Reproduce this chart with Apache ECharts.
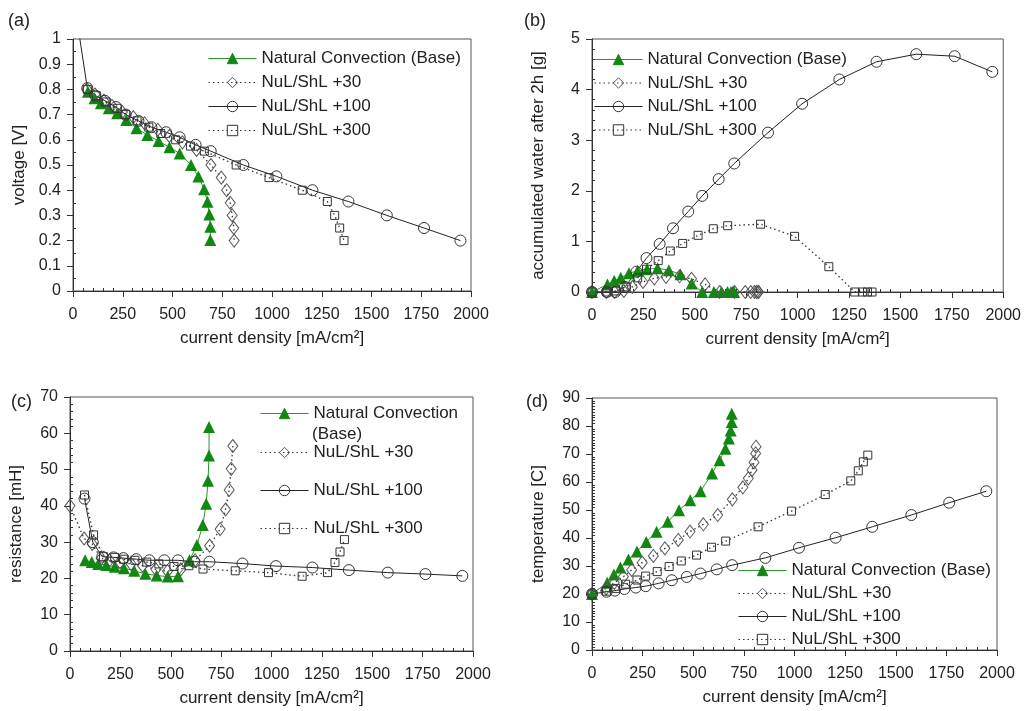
<!DOCTYPE html>
<html>
<head>
<meta charset="utf-8">
<script src="https://cdn.jsdelivr.net/npm/echarts@6/dist/echarts.min.js"></script>
<style>
  html, body { margin: 0; padding: 0; background: #fff; }
  #chart { width: 1024px; height: 711px; }
</style>
</head>
<body>
<div id="chart"></div>
<script>
// current density [mA/cm2] of every series
var xBase = [0, 75, 108, 140, 180, 222, 268, 319, 374, 430, 485, 536, 593, 630, 659, 676, 685, 690, 690];
var x30   = [0, 70, 110, 155, 196, 248, 303, 360, 426, 484, 550, 621, 693, 745, 772, 790, 800, 808, 810];
var x100  = [0, 72, 113, 160, 216, 265, 329, 394, 468, 536, 616, 692, 856, 1022, 1203, 1384, 1577, 1764, 1947];
var x300  = [0, 72, 117, 166, 222, 265, 322, 381, 441, 516, 590, 660, 820, 985, 1152, 1278, 1315, 1340, 1362];

// (a) voltage [V]
var baseA = [null, 0.791, 0.765, 0.745, 0.725, 0.705, 0.679, 0.646, 0.619, 0.595, 0.57, 0.546, 0.50, 0.454, 0.404, 0.354, 0.304, 0.255, 0.202];
var y30A  = [null, 0.80, 0.78, 0.755, 0.735, 0.71, 0.69, 0.665, 0.64, 0.615, 0.59, 0.56, 0.50, 0.45, 0.40, 0.35, 0.30, 0.25, 0.20];
var y100A = [1.18, 0.805, 0.775, 0.755, 0.73, 0.70, 0.675, 0.65, 0.63, 0.61, 0.58, 0.555, 0.50, 0.455, 0.40, 0.355, 0.30, 0.25, 0.20];
var y300A = [null, 0.80, 0.775, 0.75, 0.725, 0.70, 0.675, 0.65, 0.625, 0.60, 0.575, 0.555, 0.50, 0.45, 0.40, 0.355, 0.30, 0.25, 0.20];

// (b) accumulated water after 2h [g]
var baseB = [0, 0.15, 0.22, 0.28, 0.37, 0.42, 0.45, 0.47, 0.43, 0.35, 0.17, 0, 0, 0, 0, 0, 0, 0, 0];
var y30B  = [0, 0, 0, 0.02, 0.10, 0.20, 0.27, 0.30, 0.31, 0.26, 0.15, 0, 0, 0, 0, 0, 0, 0, 0];
var y100B = [0, 0, 0, 0.1, 0.40, 0.67, 0.95, 1.26, 1.59, 1.90, 2.23, 2.54, 3.15, 3.72, 4.20, 4.55, 4.70, 4.66, 4.35];
var y300B = [0, 0, 0.02, 0.10, 0.28, 0.45, 0.62, 0.81, 0.96, 1.12, 1.25, 1.31, 1.34, 1.10, 0.50, 0, 0, 0, 0];

// (c) resistance [mH]
var baseC = [null, 25, 24.5, 24, 23.7, 23.2, 22.8, 22.1, 21.3, 20.8, 20.5, 20.6, 25, 29.2, 34.7, 40.6, 46.9, 53.9, 61.7];
var y30C  = [40, 31, 29.5, 25.5, 25, 24.5, 24, 23.5, 22.5, 22, 22.5, 25, 29, 33.6, 39, 44.4, 50.2, 56.5, null];
var y100C = [null, 42, 30, 26, 25.8, 25.6, 25.3, 25, 25, 25, 24.6, 24.6, 24.1, 23.4, 23, 22.3, 21.6, 21.2, 20.7];
var y300C = [null, 43, 32, 26, 25.8, 25.3, 25, 24.5, 24, 23.3, 23.5, 22.6, 22.1, 21.6, 20.6, 21.6, 24.4, 27.3, 30.7];

// (d) temperature [C]
var baseD = [20, 24, 27, 29.5, 32.3, 35.2, 38.6, 42.2, 45.8, 49.9, 53.5, 56.7, 63, 67.8, 71.9, 75.5, 78.4, 81.4, 84.4];
var y30D  = [20, 22, 24, 26.2, 28.6, 31.2, 33.6, 36.3, 39.3, 42.3, 44.9, 48.2, 53.8, 58.1, 61.3, 64.3, 67, 70.2, 72.6];
var y100D = [20, 20.8, 21.2, 21.8, 22.3, 22.8, 23.8, 24.9, 26.1, 27.3, 28.8, 30.3, 32.9, 36.5, 40.1, 44, 48.2, 52.6, 56.7];
var y300D = [20, 21, 22, 23.5, 25, 26.4, 28, 29.8, 31.8, 33.9, 36.7, 38.9, 44, 49.6, 55.5, 60.4, 64, 67.2, 69.6];

var seriesNames = ['Natural Convection (Base)', 'NuL/ShL +30', 'NuL/ShL +100', 'NuL/ShL +300'];
var panelTags = ['(a)', '(b)', '(c)', '(d)'];
var yNames = ['voltage [V]', 'accumulated water after 2h [g]', 'resistance [mH]', 'temperature [C]'];
var xName = 'current density [mA/cm\u00b2]';
var yMax = [1, 5, 70, 90];
var yStep = [0.1, 1, 10, 10];

var FONT = 'Liberation Sans, Arial, sans-serif';
var INK = '#222';

var xs = [xBase, x30, x100, x300];
var ys = [
  [baseA, y30A, y100A, y300A],
  [baseB, y30B, y100B, y300B],
  [baseC, y30C, y100C, y300C],
  [baseD, y30D, y100D, y300D]
];

var grids = [
  {left: 73, top: 39, width: 398, height: 252},
  {left: 592, top: 39, width: 415, height: 253},
  {left: 70, top: 397, width: 403, height: 254},
  {left: 592, top: 398, width: 405, height: 252}
];
var yMinorSplit = [2, 5, 5, 10];

var marks = [
  {symbol: 'triangle', size: 12, line: {color: '#2a962a', width: 1, type: 'solid'}, item: {color: '#118811', borderColor: '#118811', borderWidth: 0}},
  {symbol: 'diamond', size: [10, 13], line: {color: '#333', width: 1.3, type: [1.5, 3]}, item: {color: 'transparent', borderColor: '#555', borderWidth: 1}},
  {symbol: 'circle', size: 11, line: {color: '#222', width: 1, type: 'solid'}, item: {color: 'transparent', borderColor: '#333', borderWidth: 1}},
  {symbol: 'rect', size: 8, line: {color: '#333', width: 1.3, type: [1.5, 3]}, item: {color: 'transparent', borderColor: '#333', borderWidth: 1}}
];

function plain(v) { return String(+v.toFixed(1)); }

var chart = echarts.init(document.getElementById('chart'));

var grid = [], xAxis = [], yAxis = [], series = [];
for (var p = 0; p < 4; p++) {
  grid.push(Object.assign({show: true, borderColor: '#555', borderWidth: 1}, grids[p]));

  xAxis[p] = {
    gridIndex: p, type: 'value', position: 'bottom', min: 0, max: 2000, interval: 250,
    axisLine: {onZero: false, lineStyle: {color: '#333'}},
    axisTick: {length: 6, lineStyle: {color: '#333'}},
    axisLabel: {margin: 16, color: INK, fontFamily: FONT, fontSize: 16, formatter: plain},
    splitLine: {show: false},
    name: xName, nameLocation: 'middle', nameGap: 39,
    nameTextStyle: {color: INK, fontFamily: FONT, fontSize: 17}
  };
  // second axis only for the small inner ticks
  xAxis[p + 4] = {
    gridIndex: p, type: 'value', position: 'bottom', min: 0, max: 2000, interval: 250,
    axisLine: {show: false, onZero: false},
    axisTick: {show: false, inside: true},
    axisLabel: {show: false}, splitLine: {show: false},
    minorTick: {show: true, splitNumber: 5, length: 3, lineStyle: {color: '#333'}}
  };

  yAxis[p] = {
    gridIndex: p, type: 'value', position: 'left', min: 0, max: yMax[p], interval: yStep[p],
    axisLine: {onZero: false, lineStyle: {color: '#333'}},
    axisTick: {length: 6, lineStyle: {color: '#333'}},
    axisLabel: {margin: 12, color: INK, fontFamily: FONT, fontSize: 16, formatter: plain},
    splitLine: {show: false},
    name: yNames[p], nameLocation: 'middle', nameGap: 45,
    nameTextStyle: {color: INK, fontFamily: FONT, fontSize: 17}
  };
  yAxis[p + 4] = {
    gridIndex: p, type: 'value', position: 'left', min: 0, max: yMax[p], interval: yStep[p],
    axisLine: {show: false, onZero: false},
    axisTick: {show: false, inside: true},
    axisLabel: {show: false}, splitLine: {show: false},
    minorTick: {show: true, splitNumber: yMinorSplit[p], length: 3, lineStyle: {color: '#333'}}
  };

  for (var s = 0; s < 4; s++) {
    var data = [];
    for (var i = 0; i < xs[s].length; i++) {
      if (ys[p][s][i] != null) data.push([xs[s][i], ys[p][s][i]]);
    }
    series.push({
      type: 'line', name: seriesNames[s], xAxisIndex: p, yAxisIndex: p, data: data,
      symbol: marks[s].symbol, symbolSize: marks[s].size,
      lineStyle: marks[s].line, itemStyle: marks[s].item,
      clip: true, animation: false, emphasis: {disabled: true}
    });
  }
}

function makeLegend(left, top, names, gap, fmt) {
  return {
    orient: 'vertical', left: left, top: top, padding: 0, itemGap: gap,
    itemWidth: 48, itemHeight: 13, selectedMode: false, data: names,
    formatter: fmt,
    lineStyle: {width: 1},
    itemStyle: {borderWidth: 1},
    textStyle: {color: INK, fontFamily: FONT, fontSize: 17, lineHeight: 17}
  };
}

var legend = [
  makeLegend(208, 50, seriesNames, 7),
  makeLegend(594, 51, seriesNames, 6.5),
  makeLegend(260, 405, [seriesNames[0]], 0, function () { return 'Natural Convection'; }),
  makeLegend(260, 444, seriesNames.slice(1), 21),
  makeLegend(738, 562, seriesNames, 6)
];

var tagPos = [[8, 12], [524, 12], [11, 393], [526, 393]];
var graphic = tagPos.map(function (t, k) {
  return {type: 'text', left: t[0], top: t[1], style: {text: panelTags[k], font: '18px ' + FONT, fill: INK}};
});
graphic.push({type: 'text', left: 312, top: 426, style: {text: '(Base)', font: '17px ' + FONT, fill: INK}});

chart.setOption({
  animation: false,
  grid: grid, xAxis: xAxis, yAxis: yAxis, series: series,
  legend: legend, graphic: graphic
});
</script>
</body>
</html>
